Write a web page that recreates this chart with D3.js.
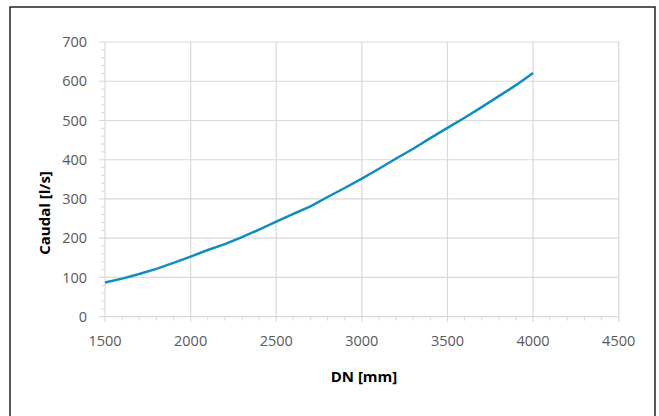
<!DOCTYPE html>
<head>
  <meta charset="utf-8">
  <script src="https://d3js.org/d3.v7.min.js"></script>
  <style>
    body { margin:0; background:#fff; }
    text { font-family: "Open Sans", sans-serif; }
  </style>
</head>
<body>
<script>
// DN [mm] vs Caudal [l/s]
const dn = [1500, 1600, 1700, 1800, 1900, 2000, 2100, 2200, 2300, 2400, 2500, 2600, 2700,
            2800, 2900, 3000, 3100, 3200, 3300, 3400, 3500, 3600, 3700, 3800, 3900, 4000];
const caudal = [87, 97, 109, 122, 137, 153, 170, 185, 203, 222, 242, 262, 281,
                305, 328, 352, 377, 403, 428, 455, 481, 507, 534, 562, 590, 621];
const xTicks = [1500, 2000, 2500, 3000, 3500, 4000, 4500];
const yTicks = [0, 100, 200, 300, 400, 500, 600, 700];

const W = 659, H = 416;
const svg = d3.select('body').append('svg')
    .attr('width', W)
    .attr('height', H);

// outer frame
svg.append('rect')
    .attr('x', 10).attr('y', 7)
    .attr('width', 645).attr('height', 430)
    .attr('fill', 'none')
    .attr('stroke', '#222')
    .attr('stroke-width', 1.5);

const x = d3.scaleLinear().domain([1500, 4500]).range([105, 618.7]);
const y = d3.scaleLinear().domain([0, 700]).range([316.7, 42]);
const grid = '#d9d9d9';

// gridlines
svg.append('g').selectAll('line.h')
    .data(yTicks.slice(1))
    .enter().append('line')
    .attr('x1', x(1500) - 6).attr('x2', x(4500))
    .attr('y1', d => y(d)).attr('y2', d => y(d))
    .attr('stroke', grid).attr('stroke-width', 1.2);
svg.append('g').selectAll('line.v')
    .data(xTicks.slice(1))
    .enter().append('line')
    .attr('x1', d => x(d)).attr('x2', d => x(d))
    .attr('y1', y(700)).attr('y2', y(0) + 5)
    .attr('stroke', grid).attr('stroke-width', 1.2);

// minor ticks
svg.append('g').selectAll('line')
    .data(d3.range(20, 700, 20).filter(d => d % 100))
    .enter().append('line')
    .attr('x1', x(1500) - 4).attr('x2', x(1500))
    .attr('y1', d => y(d)).attr('y2', d => y(d))
    .attr('stroke', grid);
svg.append('g').selectAll('line')
    .data(d3.range(1600, 4500, 100).filter(d => d % 500))
    .enter().append('line')
    .attr('x1', d => x(d)).attr('x2', d => x(d))
    .attr('y1', y(0)).attr('y2', y(0) + 4)
    .attr('stroke', grid);

// axis lines
svg.append('line')
    .attr('x1', x(1500)).attr('x2', x(1500))
    .attr('y1', y(700)).attr('y2', y(0) + 5)
    .attr('stroke', grid).attr('stroke-width', 1.2);
svg.append('line')
    .attr('x1', x(1500) - 6).attr('x2', x(4500))
    .attr('y1', y(0)).attr('y2', y(0))
    .attr('stroke', grid).attr('stroke-width', 1.2);

// tick labels
svg.append('g').selectAll('text')
    .data(yTicks)
    .enter().append('text')
    .attr('x', 87).attr('y', d => y(d))
    .attr('dy', '0.35em')
    .attr('text-anchor', 'end')
    .attr('font-size', 14.5)
    .attr('fill', '#595959')
    .text(d => d);
svg.append('g').selectAll('text')
    .data(xTicks)
    .enter().append('text')
    .attr('x', d => x(d)).attr('y', 341)
    .attr('dy', '0.35em')
    .attr('text-anchor', 'middle')
    .attr('font-size', 14.5)
    .attr('fill', '#595959')
    .text(d => d);

// axis titles
svg.append('text')
    .attr('x', 364).attr('y', 377)
    .attr('dy', '0.35em')
    .attr('text-anchor', 'middle')
    .attr('font-size', 15)
    .attr('font-weight', 'bold')
    .attr('fill', '#000')
    .text('DN [mm]');
svg.append('text')
    .attr('transform', 'translate(45,213) rotate(-90)')
    .attr('dy', '0.35em')
    .attr('text-anchor', 'middle')
    .attr('font-size', 15)
    .attr('font-weight', 'bold')
    .attr('fill', '#000')
    .text('Caudal [l/s]');

// series
const line = d3.line()
    .x((d, i) => x(dn[i]))
    .y(d => y(d));
svg.append('path')
    .attr('d', line(caudal))
    .attr('fill', 'none')
    .attr('stroke', '#0e8ec0')
    .attr('stroke-width', 2.5);
</script>
</body>
